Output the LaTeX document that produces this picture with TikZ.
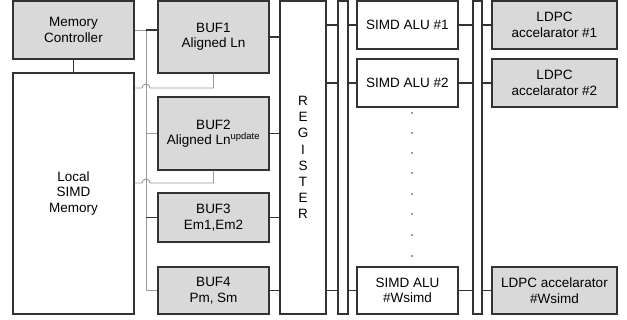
\documentclass[tikz,border=0pt]{standalone}
\usepackage{fontspec}
\setmainfont{Liberation Sans}
\begin{document}
\begin{tikzpicture}[x=1pt,y=-1pt,
  box/.style={draw=black!80, line width=1.2pt, align=center, inner sep=0pt, font=\fontsize{13.5}{15.5}\selectfont},
  gbox/.style={box, fill=gray!30},
  wbox/.style={box, fill=white},
  dk/.style={draw=black!80, line width=1.2pt},
  gy/.style={draw=black!40, line width=0.9pt},
  dotm/.style={circle, fill=black!80, inner sep=0pt, minimum size=1.8pt}]
\useasboundingbox (0,0) rectangle (627,320);
% left column
\node[gbox, minimum width=121, minimum height=58] (mc) at (73.5,30) {Memory\\Controller};
\node[wbox, minimum width=121, minimum height=241] (lsm) at (73.5,193.5) {Local\\SIMD\\Memory};
% buffers
\node[gbox, minimum width=111, minimum height=72] (buf1) at (213.5,37) {BUF1\\Aligned Ln};
\node[gbox, minimum width=111, minimum height=73] (buf2) at (213.5,133.5) {BUF2\\Aligned Ln\textsuperscript{update}};
\node[gbox, minimum width=111, minimum height=49] (buf3) at (213.5,217.5) {BUF3\\Em1,Em2};
\node[gbox, minimum width=111, minimum height=47] (buf4) at (213.5,290.5) {BUF4\\Pm, Sm};
% register and buses
\node[wbox, minimum width=46, minimum height=313, font=\fontsize{13.5}{16.2}\selectfont] (reg) at (303,157.5) {R\\E\\G\\I\\S\\T\\E\\R};
\node[wbox, minimum width=10, minimum height=313] (bus1) at (343,157.5) {};
\node[wbox, minimum width=9, minimum height=313] (bus2) at (477.5,157.5) {};
% ALUs
\node[wbox, minimum width=101, minimum height=48] (alu1) at (407.5,25) {SIMD ALU \#1};
\node[wbox, minimum width=101, minimum height=48] (alu2) at (407.5,83) {SIMD ALU \#2};
\node[wbox, minimum width=101, minimum height=47] (aluw) at (407.5,290.5) {SIMD ALU\\\#Wsimd};
% LDPC
\node[gbox, minimum width=125, minimum height=48] (ld1) at (554.5,25) {LDPC\\accelarator \#1};
\node[gbox, minimum width=125, minimum height=48] (ld2) at (554.5,83) {LDPC\\accelarator \#2};
\node[gbox, minimum width=125, minimum height=47] (ldw) at (554.5,290.5) {LDPC accelarator\\\#Wsimd};
% dots
\foreach \yy [count=\i] in {113,133,153,173,194,214,235,256}
  \node[dotm] (d\i) at (412,\yy) {};
% MC to local memory
\draw[dk] (mc.south) -- (lsm.north);
% left gray bus
\coordinate (bx) at (146,0);
\draw[gy] (mc.east) -- (bx |- mc.east);
\draw[gy] (bx |- mc.east) -- (bx |- buf4.west);
\draw[dk] (bx |- mc.east) -- (buf1.west |- mc.east);
\draw[gy] (bx |- buf2.west) -- (buf2.west);
\draw[dk] (bx |- buf3.west) -- (buf3.west);
\draw[gy] (bx |- buf4.west) -- (buf4.west);
% return lines with hops
\coordinate (r1) at (0,88);
\coordinate (r2) at (0,183);
\draw[gy] (buf1.south) -- (buf1.south |- r1) -- ([xshift=4pt]bx |- r1) arc[start angle=0,end angle=180,radius=4pt] -- (lsm.east |- r1);
\draw[gy] (buf2.south) -- (buf2.south |- r2) -- ([xshift=4pt]bx |- r2) arc[start angle=0,end angle=180,radius=4pt] -- (lsm.east |- r2);
% buffers to register
\foreach \b in {buf1,buf2,buf3,buf4}
  \draw[dk] (\b.east) -- (\b.east -| reg.west);
% register - bus1 - ALU - bus2 - LDPC
\foreach \a/\l in {alu1/ld1,alu2/ld2,aluw/ldw}{
  \draw[dk] (\a.west -| reg.east) -- (\a.west -| bus1.west);
  \draw[dk] (\a.west -| bus1.east) -- (\a.west);
  \draw[dk] (\a.east) -- (\a.east -| bus2.west);
  \draw[dk] (\l.west -| bus2.east) -- (\l.west);
}
\end{tikzpicture}
\end{document}
